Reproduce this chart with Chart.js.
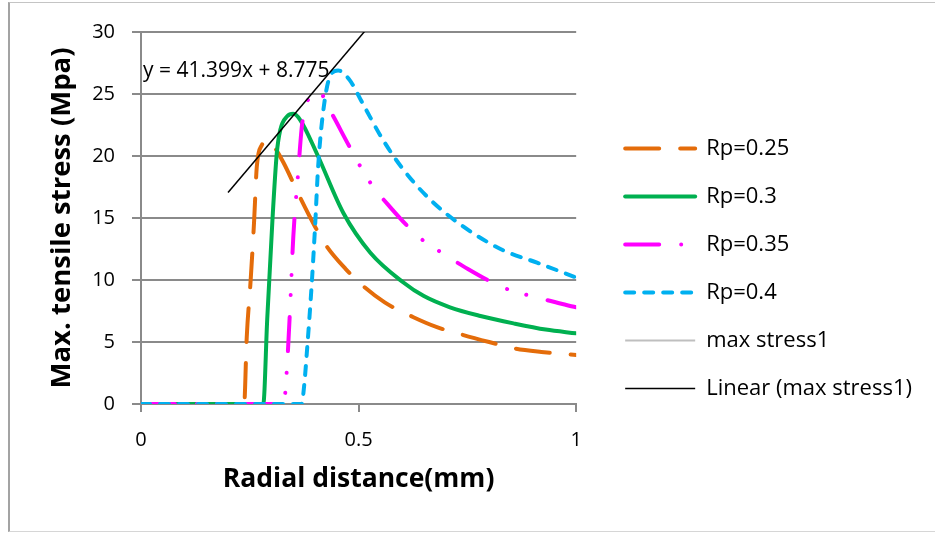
<!DOCTYPE html>
<html>
<head>
<meta charset="utf-8">
<script src="https://cdn.jsdelivr.net/npm/chart.js@4.4.0/dist/chart.umd.min.js"></script>
<style>
html, body { margin: 0; padding: 0; background: #fff; }
#wrap { position: relative; width: 935px; height: 533px; overflow: hidden; }
#frame { position: absolute; left: 8px; top: 2px; width: 935px; height: 528px; border-left: 2px solid #a3a3a3; border-top: 1px solid #c4c4c4; border-bottom: 1px solid #d6d6d6; pointer-events: none; }
canvas { position: absolute; left: 0; top: 0; }
</style>
</head>
<body>
<div id="wrap"><canvas id="chart" width="935" height="533"></canvas><div id="frame"></div></div>
<script>
// AXES
const xTicks = [0, 0.5, 1];
const yTicks = [0, 5, 10, 15, 20, 25, 30];

// SERIES
const rp25X = [0, 0.237, 0.243, 0.252, 0.26, 0.266, 0.278, 0.292, 0.305, 0.327, 0.365, 0.4, 0.427, 0.47, 0.511, 0.56, 0.626, 0.68, 0.741, 0.8, 0.856, 0.92, 1];
const rp25Y = [0, 0, 5.4, 10, 14.8, 19.1, 20.9, 21.3, 20.8, 19.5, 16.7, 14.3, 12.7, 10.9, 9.5, 8.2, 7.0, 6.2, 5.56, 5.0, 4.5, 4.2, 3.95];

const rp30X = [0, 0.281, 0.29, 0.302, 0.312, 0.32, 0.336, 0.35, 0.366, 0.404, 0.465, 0.527, 0.603, 0.65, 0.71, 0.78, 0.856, 0.93, 1];
const rp30Y = [0, 0, 6.8, 14.8, 20.2, 22.1, 23.2, 23.4, 22.9, 20.2, 15.4, 12.2, 9.8, 8.7, 7.8, 7.1, 6.5, 6.0, 5.7];

const rp35X = [0, 0.328, 0.335, 0.342, 0.35, 0.361, 0.37, 0.385, 0.41, 0.434, 0.48, 0.522, 0.572, 0.641, 0.7, 0.741, 0.832, 0.92, 1];
const rp35Y = [0, 0, 2.7, 7.3, 13.5, 18.6, 22.5, 24.6, 25.1, 23.7, 20.7, 18.1, 15.9, 13.4, 12.0, 11.1, 9.4, 8.5, 7.8];

const rp40X = [0, 0.369, 0.375, 0.381, 0.392, 0.4, 0.407, 0.418, 0.434, 0.453, 0.48, 0.51, 0.556, 0.603, 0.664, 0.741, 0.832, 0.91, 1];
const rp40Y = [0, 0, 1.5, 4.1, 9.5, 14.3, 19.1, 23.4, 26.4, 26.9, 26.1, 24.2, 21.3, 18.9, 16.5, 14.3, 12.4, 11.4, 10.2];

// peaks (series is not visible in the picture)
const maxX = [0.292, 0.35, 0.41, 0.453];
const maxY = [21.3, 23.4, 25.1, 26.9];

// TRENDLINE
const trendSlope = 41.399;
const trendIntercept = 8.775;
const trendX = [0.2, 0.55];
const trendLabel = "y = 41.399x + 8.775";

const toPoints = (xs, ys) => xs.map((x, i) => ({x: x, y: ys[i]}));

const GRID = "#8a8a8a";
const FONT = "'Open Sans', 'Liberation Sans', sans-serif";

const curve = (label, xs, ys, color, dash, order) => ({
    label, data: toPoints(xs, ys), borderColor: color, backgroundColor: color,
    borderWidth: 4, borderDash: dash, borderCapStyle: "round", borderJoinStyle: "round",
    pointRadius: 0, cubicInterpolationMode: "monotone", order
});

// equation text next to the trendline
const eqLabel = {
    id: "eqLabel",
    afterDatasetsDraw(chart){
        const {ctx, scales: {x, y}} = chart;
        ctx.save();
        ctx.font = "21px " + FONT;
        ctx.fillStyle = "#000";
        ctx.textBaseline = "alphabetic";
        ctx.fillText(trendLabel, x.getPixelForValue(0) + 2, y.getPixelForValue(26.4));
        ctx.restore();
    }
};

// legend items take the line style of their dataset
function legendLabels(chart){
    const items = Chart.defaults.plugins.legend.labels.generateLabels(chart);
    items.forEach(it => {
        const ds = chart.data.datasets[it.datasetIndex];
        it.lineDash = ds.borderDash || [];
        it.lineCap = ds.borderCapStyle || "butt";
        it.lineWidth = ds.borderWidth;
        it.strokeStyle = ds.borderColor;
    });
    return items;
}

new Chart(document.getElementById("chart"), {
    type: "line",
    data: {
        datasets: [
            curve("Rp=0.25", rp25X, rp25Y, "#E46C0A", [34, 21], 4),
            curve("Rp=0.3", rp30X, rp30Y, "#00B050", [], 3),
            curve("Rp=0.35", rp35X, rp35Y, "#FF00FF", [34, 22, 0.01, 20, 0.01, 22], 2),
            curve("Rp=0.4", rp40X, rp40Y, "#00B0F0", [9, 10], 1),
            { label: "max stress1", data: toPoints(maxX, maxY), borderColor: "#BFBFBF", backgroundColor: "#BFBFBF",
              borderWidth: 2, showLine: false, pointRadius: 0, order: 5 },
            { label: "Linear (max stress1)", data: toPoints(trendX, trendX.map(x => trendSlope * x + trendIntercept)),
              borderColor: "#000", backgroundColor: "#000", borderWidth: 1.5, pointRadius: 0, tension: 0, order: 0 }
        ]
    },
    options: {
        responsive: false,
        animation: false,
        devicePixelRatio: 1,
        layout: { padding: { left: 10, top: 32, right: 13, bottom: 28 } },
        scales: {
            x: {
                type: "linear", min: 0, max: 1,
                afterBuildTicks: s => { s.ticks = xTicks.map(v => ({value: v})); },
                afterFit: s => { s.height = 101; },
                grid: { drawOnChartArea: false, tickLength: 8, color: GRID, lineWidth: 2 },
                border: { color: GRID, width: 2 },
                ticks: { color: "#000", font: { family: FONT, size: 20 }, padding: 16, maxRotation: 0,
                         callback: v => String(v) },
                title: { display: true, text: "Radial distance(mm)", color: "#000",
                         font: { family: FONT, size: 26.5, weight: "bold" }, padding: { top: 0, bottom: 10 } }
            },
            y: {
                min: 0, max: 30,
                afterBuildTicks: s => { s.ticks = yTicks.map(v => ({value: v})); },
                afterFit: s => { s.width = 131; },
                grid: { tickLength: 9, color: GRID, lineWidth: 2 },
                border: { color: GRID, width: 2 },
                ticks: { color: "#000", font: { family: FONT, size: 20 }, padding: 17, callback: v => String(v) },
                title: { display: true, text: "Max. tensile stress (Mpa)", color: "#000",
                         font: { family: FONT, size: 27.5, weight: "bold" }, padding: { top: 36, bottom: 0 } }
            },
            // empty gap between plot and legend
            gap: {
                position: "right", display: true,
                grid: { display: false }, border: { display: false }, ticks: { display: false },
                afterFit: s => { s.width = 23; }
            }
        },
        plugins: {
            legend: {
                position: "right",
                maxWidth: 323,
                labels: {
                    usePointStyle: true, pointStyle: "line", pointStyleWidth: 70,
                    padding: 26, color: "#000", font: { family: FONT, size: 22 },
                    generateLabels: legendLabels,
                    sort: (a, b) => a.datasetIndex - b.datasetIndex
                }
            },
            tooltip: { enabled: false }
        }
    },
    plugins: [eqLabel]
});
</script>
</body>
</html>
